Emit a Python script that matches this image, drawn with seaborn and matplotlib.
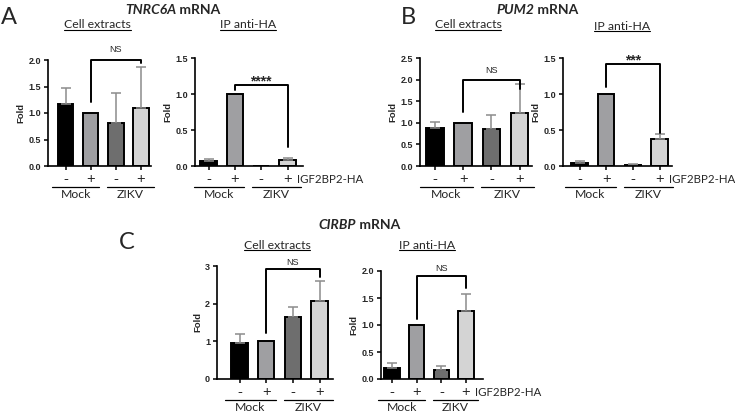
import numpy as np
import pandas as pd
import seaborn as sns
import matplotlib
matplotlib.use("Agg")
import matplotlib.pyplot as plt
import matplotlib.transforms as mtransforms
from matplotlib.lines import Line2D

sns.set_theme(style="ticks")
plt.rcParams["font.family"] = ["Liberation Sans", "DejaVu Sans"]

W, H = 735, 412
SOFT = "Lato"  # stands in for Calibri

### data
conditions = ["Mock -", "Mock +", "ZIKV -", "ZIKV +"]
tick_labels = ["-", "+", "-", "+"]
groups = ["Mock", "ZIKV"]
bar_colors = ["#000000", "#9e9ea2", "#6e6e6e", "#d4d4d4"]

tnrc6a_cell = [1.17, 1.00, 0.81, 1.09]
tnrc6a_cell_sd = [0.31, 0.0, 0.57, 0.78]
tnrc6a_ip = [0.07, 1.00, 0.005, 0.09]
tnrc6a_ip_sd = [0.03, 0.0, 0.0, 0.02]

pum2_cell = [0.88, 1.00, 0.85, 1.22]
pum2_cell_sd = [0.15, 0.0, 0.33, 0.68]
pum2_ip = [0.04, 1.00, 0.02, 0.38]
pum2_ip_sd = [0.03, 0.0, 0.01, 0.06]

cirbp_cell = [0.96, 1.00, 1.65, 2.08]
cirbp_cell_sd = [0.23, 0.0, 0.25, 0.52]
cirbp_ip = [0.20, 1.00, 0.17, 1.26]
cirbp_ip_sd = [0.10, 0.0, 0.08, 0.32]

# brackets: (left leg end, top, right leg end, label, label height)
tnrc6a_cell_sig = (1.21, 2.0, 1.94, "NS", 2.2)
tnrc6a_ip_sig = (1.06, 1.12, 0.27, "****", 1.17)
pum2_cell_sig = (1.25, 1.98, 1.79, "NS", 2.22)
pum2_ip_sig = (1.10, 1.42, 0.46, "***", 1.47)
cirbp_cell_sig = (1.21, 2.91, 2.70, "NS", 3.1)
cirbp_ip_sig = (1.11, 1.90, 1.69, "NS", 2.05)


def draw_panel(fig, px, means, sd, ymax, ystep, sig, show_ha=False):
    # px = (left, right, top, bottom, first bar centre, last bar centre) in pixels
    left, right, top, bottom, c0, c3 = px
    ax = fig.add_axes([left / W, 1 - bottom / H, (right - left) / W, (bottom - top) / H])
    df = pd.DataFrame({"condition": conditions, "fold": means})
    sns.barplot(data=df, x="condition", y="fold", hue="condition", palette=bar_colors,
                legend=False, errorbar=None, width=0.62, edgecolor="black",
                linewidth=1.4, ax=ax)
    sd = np.asarray(sd)
    keep = sd > 0
    xs = np.arange(4)[keep]
    ax.errorbar(xs, np.asarray(means)[keep], yerr=[np.zeros(keep.sum()), sd[keep]],
                fmt="none", ecolor="#8c8c8c", elinewidth=1.1, capsize=3.5,
                capthick=1.1, zorder=1)

    s = (c3 - c0) / 3
    ax.set_xlim((left - c0) / s, 3 + (right - c3) / s)
    ax.set_ylim(0, ymax)
    ticks = np.arange(0, ymax + 1e-9, ystep)
    ax.set_yticks(ticks)
    fmt = "{:.1f}" if ystep < 1 else "{:.0f}"
    ax.set_yticklabels([fmt.format(v) for v in ticks], fontsize=6.5, fontweight="bold")
    ax.set_xticks(range(4))
    ax.set_xticklabels(tick_labels, fontsize=10.5)
    ax.set_xlabel("")
    ax.set_ylabel("Fold", fontsize=6.8, fontweight="bold", labelpad=2)
    ax.tick_params(axis="both", length=3, width=1.1, color="black", pad=2)
    ax.tick_params(axis="x", pad=1.5)
    sns.despine(ax=ax)
    for sp in ["left", "bottom"]:
        ax.spines[sp].set_linewidth(1.2)
        ax.spines[sp].set_color("black")

    # group underlines and names under the axis
    base = mtransforms.blended_transform_factory(ax.transData, ax.transAxes)
    line_tr = mtransforms.offset_copy(base, fig=fig, y=-21, units="dots")
    name_tr = mtransforms.offset_copy(base, fig=fig, y=-28.5, units="dots")
    for (x0, x1), name in zip([(-0.55, 1.35), (1.65, 3.5)], groups):
        ax.add_line(Line2D([x0, x1], [0, 0], transform=line_tr, color="black",
                           lw=0.9, clip_on=False))
        ax.text((x0 + x1) / 2, 0, name, transform=name_tr, ha="center", va="center",
                fontsize=8.8, family=SOFT)
    if show_ha:
        ha_tr = mtransforms.offset_copy(base, fig=fig, x=9, y=-13, units="dots")
        ax.text(3, 0, "IGF2BP2-HA", transform=ha_tr, ha="left", va="center",
                fontsize=8.3, family=SOFT)

    lb, tp, rb, label, ly = sig
    ax.plot([1, 1, 3, 3], [lb, tp, tp, rb], color="black", lw=1.4, clip_on=False)
    if label == "NS":
        ax.text(2, ly, label, ha="center", va="center", fontsize=6.5, clip_on=False)
    else:
        ax.text(2, ly, label, ha="center", va="center", fontsize=10,
                fontweight="bold", clip_on=False)
    return ax


def fig_text(fig, x, y, s, **kw):
    return fig.text(x / W, 1 - y / H, s, ha="center", va="center", **kw)


def title(fig, x_split, y, gene):
    fig.text(x_split / W, 1 - y / H, gene, ha="right", va="center", fontsize=10,
             fontweight="bold", fontstyle="italic", family=SOFT)
    fig.text(x_split / W, 1 - y / H, " mRNA", ha="left", va="center", fontsize=10,
             fontweight="bold", family=SOFT)


def underlined(fig, x, y, s):
    t = fig_text(fig, x, y, s, fontsize=8.8, family=SOFT)
    fig.canvas.draw()
    bb = t.get_window_extent(fig.canvas.get_renderer())
    fig.add_artist(Line2D([bb.x0 / W, bb.x1 / W], [(bb.y0 + 1) / H, (bb.y0 + 1) / H],
                          transform=fig.transFigure, color="black", lw=0.8))


def main():
    fig = plt.figure(figsize=(W / 100, H / 100), dpi=100)

    draw_panel(fig, (48, 151, 60, 166, 65.5, 141), tnrc6a_cell, tnrc6a_cell_sd, 2.0, 0.5, tnrc6a_cell_sig)
    draw_panel(fig, (195, 303, 58, 166, 208.5, 287.5), tnrc6a_ip, tnrc6a_ip_sd, 1.5, 0.5, tnrc6a_ip_sig, show_ha=True)
    draw_panel(fig, (420, 532, 58, 166, 435, 519.5), pum2_cell, pum2_cell_sd, 2.5, 0.5, pum2_cell_sig)
    draw_panel(fig, (563, 672, 58, 166, 579.5, 659.5), pum2_ip, pum2_ip_sd, 1.5, 0.5, pum2_ip_sig, show_ha=True)
    draw_panel(fig, (217, 333, 266, 379, 239.5, 319.5), cirbp_cell, cirbp_cell_sd, 3, 1, cirbp_cell_sig)
    draw_panel(fig, (381, 483, 271, 379, 392, 466), cirbp_ip, cirbp_ip_sd, 2.0, 0.5, cirbp_ip_sig, show_ha=True)

    # panel letters and headings
    fig_text(fig, 9, 17, "A", fontsize=17, family=SOFT)
    fig_text(fig, 408, 17, "B", fontsize=17, family=SOFT)
    fig_text(fig, 127, 243, "C", fontsize=17, family=SOFT)
    title(fig, 176, 10, "TNRC6A")
    title(fig, 534, 10, "PUM2")
    title(fig, 356, 225, "CIRBP")

    underlined(fig, 97.5, 25, "Cell extracts")
    underlined(fig, 248, 25, "IP anti-HA")
    underlined(fig, 468, 25, "Cell extracts")
    underlined(fig, 622, 26, "IP anti-HA")
    underlined(fig, 277, 246, "Cell extracts")
    underlined(fig, 427, 246, "IP anti-HA")

    fig.savefig("out.png", dpi=100, facecolor="white")
    plt.close("all")


if __name__ == "__main__":
    main()
